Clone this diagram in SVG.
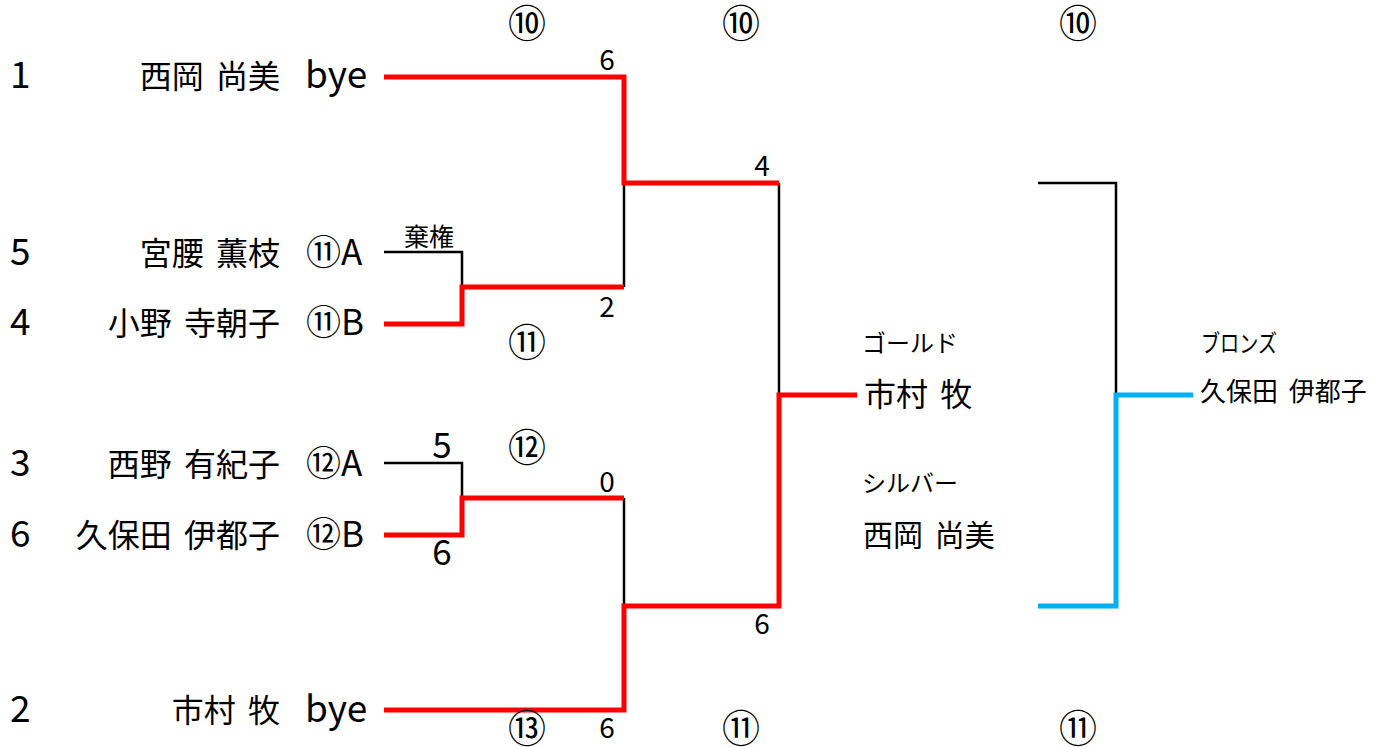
<svg xmlns="http://www.w3.org/2000/svg" width="1385" height="747" viewBox="0 0 1385 747">
<style>
text{font-family:"Noto Sans CJK JP","Noto Sans",sans-serif;fill:#000;word-spacing:5px}
.seed{font-size:37px}
.name{font-size:32px;text-anchor:end}
.bye{font-size:37px}
.tag{font-size:35px}
.sc{font-size:28px;text-anchor:middle}
.sc1{font-size:35px;text-anchor:middle}
.cn{font-size:38px;text-anchor:middle}
.med{font-size:24px}
.red{fill:none;stroke:#FF0000;stroke-width:5}
.blk{fill:none;stroke:#000;stroke-width:2.5}
.blu{fill:none;stroke:#00B0F0;stroke-width:5}
</style>
<rect width="1385" height="747" fill="#fff"/>
<g id="connectors">
<path class="blk" d="M624,183V287"/>
<path class="blk" d="M779,183V395"/>
<path class="blk" d="M384,252H462V287"/>
<path class="blk" d="M384,463H462V498"/>
<path class="blk" d="M624,498V606"/>
<path class="blk" d="M1038,183H1116V395"/>
<path class="red" d="M384,77H624V183H779"/>
<path class="red" d="M384,324H462V287H624"/>
<path class="red" d="M384,535H462V498H624"/>
<path class="red" d="M384,710H624V606H779V395H857"/>
<path class="blu" d="M1038,606H1116V395H1193"/>
</g>
<g id="p1"><text class="seed" x="10" y="88">1</text><text class="name" x="280" y="88">西岡 尚美</text><text class="bye" x="305" y="88">bye</text></g>
<g id="p5"><text class="seed" x="10" y="265">5</text><text class="name" x="280" y="265">宮腰 薫枝</text><text class="tag" x="306" y="265">⑪A</text></g>
<g id="p4"><text class="seed" x="10" y="335">4</text><text class="name" x="280" y="335">小野 寺朝子</text><text class="tag" x="306" y="335">⑪B</text></g>
<g id="p3"><text class="seed" x="10" y="476">3</text><text class="name" x="280" y="476">西野 有紀子</text><text class="tag" x="306" y="476">⑫A</text></g>
<g id="p6"><text class="seed" x="10" y="547">6</text><text class="name" x="280" y="547">久保田 伊都子</text><text class="tag" x="306" y="547">⑫B</text></g>
<g id="p2"><text class="seed" x="10" y="722">2</text><text class="name" x="280" y="722">市村 牧</text><text class="bye" x="305" y="722">bye</text></g>
<g id="labels">
<text x="429" y="246" style="font-size:25px;text-anchor:middle">棄権</text>
<text class="sc1" x="442" y="458">5</text>
<text class="sc1" x="442" y="565">6</text>
<text class="sc" x="607" y="70">6</text>
<text class="sc" x="607" y="317">2</text>
<text class="sc" x="607" y="492">0</text>
<text class="sc" x="607" y="738">6</text>
<text class="sc" x="762" y="176">4</text>
<text class="sc" x="762" y="634">6</text>
<text class="cn" x="527" y="37">⑩</text>
<text class="cn" x="741" y="37">⑩</text>
<text class="cn" x="1078" y="37">⑩</text>
<text class="cn" x="527" y="356">⑪</text>
<text class="cn" x="527" y="461">⑫</text>
<text class="cn" x="527" y="742">⑬</text>
<text class="cn" x="741" y="742">⑪</text>
<text class="cn" x="1078" y="742">⑪</text>
</g>
<g id="gold"><text class="med" x="862" y="352">ゴールド</text><text x="864" y="406" style="font-size:32px">市村 牧</text></g>
<g id="silver"><text class="med" x="862" y="492">シルバー</text><text x="863" y="546" style="font-size:30px">西岡 尚美</text></g>
<g id="bronze"><text class="med" x="1201" y="352" textLength="76" lengthAdjust="spacingAndGlyphs">ブロンズ</text><text x="1200" y="401" style="font-size:26px">久保田 伊都子</text></g>
</svg>
